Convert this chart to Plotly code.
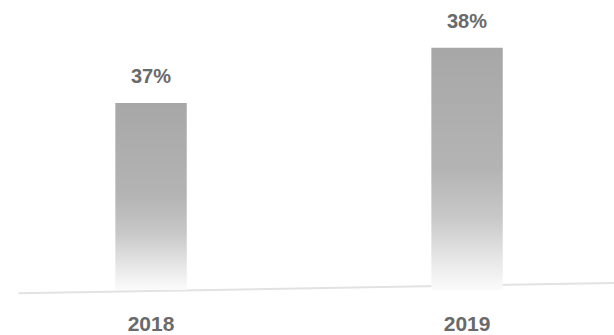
import plotly.graph_objects as go

# Share by year
years = ["2018", "2019"]
shares = [37, 38]
share_labels = ["37%", "38%"]

x_pos = list(range(len(years)))
bar_width = 0.226
y_floor = 33.6
y_ceil = 38.87

fig = go.Figure()

# Transparent bars carry the data on the axes
fig.add_trace(go.Bar(
    x=x_pos, y=shares, width=bar_width,
    marker=dict(color="rgba(0,0,0,0)", line=dict(width=0)),
    hoverinfo="skip", showlegend=False,
))

# Gradient fill for each bar: grey at the top fading to white at the base
for xi, v in zip(x_pos, shares):
    x0, x1 = xi - bar_width / 2, xi + bar_width / 2
    fig.add_trace(go.Scatter(
        x=[x0, x1, x1, x0, x0],
        y=[y_floor, y_floor, v, v, y_floor],
        mode="lines", fill="toself",
        line=dict(width=0, color="rgba(0,0,0,0)"),
        fillgradient=dict(
            type="vertical", start=y_floor, stop=v,
            colorscale=[[0, "#fbfbfb"], [0.12, "#e8e8e8"], [0.3, "#c8c8c8"],
                        [0.5, "#b4b4b4"], [1, "#a7a7a7"]],
        ),
        hoverinfo="skip", showlegend=False,
    ))

# Value labels above the bars
for xi, v, lab in zip(x_pos, shares, share_labels):
    fig.add_annotation(
        x=xi, y=v, text=f"<b>{lab}</b>", showarrow=False,
        yanchor="bottom", yshift=14,
        font=dict(family="Liberation Sans, Arial", size=20, color="#6a6a6a"),
    )

# Light baseline under the bars
fig.add_shape(
    type="line", xref="paper", yref="paper",
    x0=0.03, y0=-0.011, x1=1.0, y1=0.024,
    line=dict(color="#e2e2e2", width=2), layer="below",
)

fig.update_layout(
    width=614, height=335,
    margin=dict(l=0, r=0, t=0, b=45),
    paper_bgcolor="white", plot_bgcolor="white",
    bargap=0,
    xaxis=dict(
        range=[-0.478, 1.465], tickvals=x_pos,
        ticktext=[f"<b>{y}</b>" for y in years],
        showgrid=False, zeroline=False, showline=False,
        ticks="outside", ticklen=15, tickcolor="rgba(0,0,0,0)",
        tickfont=dict(family="Liberation Sans, Arial", size=21, color="#6a6a6a"),
    ),
    yaxis=dict(
        range=[y_floor, y_ceil], visible=False,
        showgrid=False, zeroline=False,
    ),
)

fig.write_html("out.html")
